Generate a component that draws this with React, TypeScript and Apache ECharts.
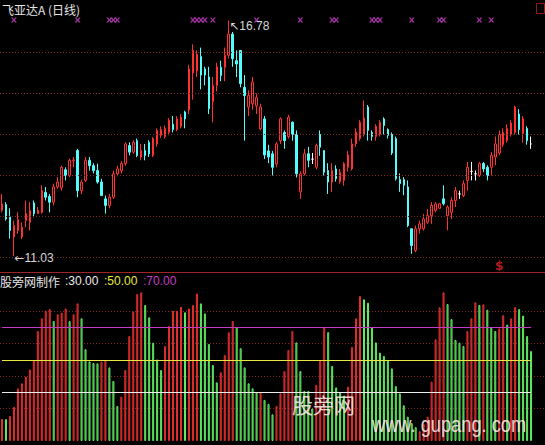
import React, { useEffect, useRef } from 'react';
import * as echarts from 'echarts';

const STOCK_TITLE = '飞亚达A (日线)';
const INDICATOR_TITLE = '股旁网制作';
const WATERMARK_CN = '股旁网';
const WATERMARK_URL = 'www. gupang. com';

// Daily candles: [open, close, low, high]
const CANDLES: number[][] = [
  [12.15, 12.31, 12.10, 12.55], [12.29, 11.94, 11.90, 12.35], [11.99, 11.66, 11.46, 12.20], [11.50, 11.78, 11.03, 11.90],
  [11.66, 11.92, 11.58, 12.10], [11.50, 11.74, 11.45, 11.86], [11.90, 12.07, 11.74, 12.39], [11.86, 12.15, 11.66, 12.35],
  [12.33, 12.07, 11.98, 12.39], [12.07, 12.15, 12.07, 12.23], [12.10, 12.63, 12.07, 12.76], [12.59, 12.47, 12.39, 12.72],
  [12.49, 12.35, 12.10, 12.55], [12.35, 12.72, 12.27, 12.80], [12.72, 12.84, 12.68, 12.96], [12.70, 13.20, 12.63, 13.24],
  [13.14, 13.00, 12.88, 13.20], [13.00, 13.37, 12.96, 13.41], [13.36, 13.38, 13.20, 13.45], [13.61, 12.63, 12.47, 13.65],
  [12.63, 12.84, 12.55, 12.90], [12.88, 13.37, 12.84, 13.45], [13.37, 13.24, 13.12, 13.45], [13.24, 13.12, 13.05, 13.30],
  [13.12, 12.84, 12.80, 13.29], [12.84, 12.51, 12.51, 12.92], [12.43, 12.27, 12.07, 12.51], [12.27, 12.47, 12.20, 12.55],
  [12.47, 13.04, 12.43, 13.12], [13.04, 13.16, 12.98, 13.24], [13.12, 13.29, 13.05, 13.35], [13.29, 13.77, 13.24, 13.81],
  [13.73, 13.57, 13.49, 13.81], [13.57, 13.81, 13.53, 13.86], [13.85, 13.49, 13.45, 13.90], [13.45, 13.61, 13.37, 13.77],
  [13.61, 13.49, 13.37, 13.77], [13.81, 13.53, 13.45, 13.86], [13.49, 13.90, 13.45, 13.94], [13.77, 14.10, 13.70, 14.15],
  [13.98, 14.12, 13.92, 14.20], [13.95, 14.15, 13.90, 14.22], [14.05, 14.35, 13.98, 14.40], [14.25, 14.12, 14.05, 14.45],
  [14.12, 14.38, 14.08, 14.45], [14.20, 14.42, 14.15, 14.50], [14.55, 14.38, 14.15, 14.58], [14.60, 15.60, 14.50, 15.70],
  [15.50, 16.05, 14.85, 16.20], [15.55, 15.95, 15.40, 16.05], [15.90, 15.45, 15.10, 16.12], [15.60, 15.45, 15.20, 15.65],
  [15.40, 14.63, 14.50, 15.65], [14.80, 15.20, 14.30, 15.40], [15.20, 15.65, 15.05, 15.75], [15.64, 15.44, 15.30, 15.80],
  [15.64, 15.93, 15.30, 16.12], [15.93, 16.45, 15.85, 16.78], [16.45, 15.85, 15.65, 16.50], [15.80, 15.72, 15.40, 16.05],
  [16.05, 15.24, 15.15, 16.05], [15.15, 14.95, 13.85, 15.45], [14.67, 14.95, 14.45, 15.08], [14.75, 15.28, 14.60, 15.40],
  [14.70, 14.90, 14.50, 15.00], [14.14, 14.67, 14.10, 14.75], [14.38, 13.50, 13.40, 14.45], [13.60, 13.45, 13.30, 13.75],
  [13.53, 13.20, 13.00, 13.60], [13.28, 13.77, 13.20, 13.82], [13.85, 14.38, 13.77, 14.42], [14.05, 13.85, 13.65, 14.10],
  [13.95, 14.42, 13.90, 14.48], [14.30, 14.00, 13.85, 14.32], [14.00, 13.04, 12.95, 14.10], [12.60, 13.04, 12.43, 13.10],
  [13.04, 13.53, 13.00, 13.65], [13.53, 13.37, 13.20, 13.70], [13.40, 13.40, 13.28, 13.55], [13.20, 13.73, 13.15, 13.78],
  [14.00, 13.69, 13.48, 14.10], [13.61, 13.08, 13.00, 13.61], [13.12, 12.84, 12.55, 13.30], [12.84, 13.12, 12.60, 13.30],
  [13.16, 12.92, 12.85, 13.25], [12.85, 13.08, 12.80, 13.16], [12.88, 13.29, 12.75, 13.33], [13.20, 13.50, 13.10, 13.60],
  [13.16, 13.77, 13.12, 13.90], [13.77, 14.06, 13.70, 14.15], [13.90, 14.30, 13.85, 14.35], [14.00, 14.40, 13.95, 14.83],
  [14.67, 14.10, 13.85, 14.72], [14.05, 13.95, 13.85, 14.10], [13.95, 14.20, 13.85, 14.25], [14.00, 14.30, 13.95, 14.35],
  [14.38, 14.22, 14.00, 14.42], [14.12, 13.98, 13.90, 14.15], [14.00, 13.55, 13.50, 14.05], [13.90, 12.92, 12.88, 13.95],
  [12.90, 12.80, 12.60, 13.05], [12.90, 12.76, 12.52, 12.96], [12.72, 11.78, 11.74, 12.88], [11.70, 11.29, 11.09, 11.70],
  [11.17, 11.70, 11.13, 11.78], [11.70, 11.82, 11.58, 11.90], [11.70, 11.94, 11.66, 12.06], [11.86, 12.02, 11.82, 12.18],
  [12.02, 12.27, 11.82, 12.35], [12.15, 12.31, 12.10, 12.35], [12.20, 12.31, 12.20, 12.33], [12.43, 12.31, 12.27, 12.76],
  [12.02, 12.23, 11.66, 12.27], [12.10, 12.39, 11.94, 12.47], [12.39, 12.63, 12.23, 12.72], [12.55, 12.55, 12.43, 12.63],
  [12.51, 12.80, 12.47, 12.88], [12.88, 13.20, 12.63, 13.33], [13.10, 13.10, 12.88, 13.33], [13.04, 13.04, 12.88, 13.12],
  [13.00, 13.29, 12.96, 13.33], [13.29, 13.16, 13.08, 13.33], [13.20, 13.00, 12.88, 13.25], [13.20, 13.49, 13.00, 13.57],
  [13.45, 13.77, 13.25, 13.95], [13.55, 14.00, 13.50, 14.10], [13.75, 14.05, 13.70, 14.15], [13.85, 14.15, 13.80, 14.25],
  [14.00, 14.28, 13.95, 14.35], [14.05, 14.67, 14.00, 14.70], [14.50, 14.12, 14.00, 14.62], [14.02, 14.38, 13.80, 14.45],
  [14.15, 13.85, 13.75, 14.20], [13.77, 13.77, 13.65, 13.95],
];

// Indicator histogram (0-100) and whether each bar is drawn as a rising (red) bar
const IND_VALUES: number[] = [
  13.5, 13.5, 15.4, 21, 32.4, 35.5, 39.6, 44, 49.8, 67.7, 75.5, 80.2, 81.2, 73.8, 78, 79, 81.6, 73.8, 78, 84.7,
  75.5, 56.5, 49, 48, 47.8, 48.8, 49.8, 45.3, 36.9, 21.5, 27.3, 43.7, 64.6, 79.6, 90.5, 91.5, 83.7, 76.1, 60.5, 50.2,
  43.7, 58.5, 70.8, 80.2, 80.2, 82.6, 79.2, 81.6, 83.7, 90.8, 84.7, 78.5, 59.7, 46.8, 36.1, 42.3, 53, 66.9, 73.9, 69.8,
  57.1, 45.3, 35.5, 32.4, 29.8, 29.8, 25.3, 22.8, 16.4, 21.5, 29.3, 43, 56, 67.7, 60.7, 43, 30.8, 30.8, 20, 34.5,
  49.6, 70, 67, 46.2, 33, 30, 28, 33.4, 57.8, 75.5, 89.2, 87.2, 85.1, 70, 60.7, 54.4, 52.3, 49.8, 44.7, 33.8,
  29.3, 22, 15, 11, 8.5, 6, 10.5, 15, 36.5, 62.6, 82.3, 91.5, 84.3, 75, 62.2, 60.5, 58.5, 67.7, 75.5, 85.4,
  83.7, 84.1, 80.8, 69.8, 67.7, 69.3, 77.4, 71.6, 75.5, 82.4, 81.2, 77.2, 64.6, 55.4,
];
const IND_RISING: number[] = [
  1, 0, 1, 1, 1, 1, 1, 1, 1, 1, 1, 1, 1, 0, 1, 1, 1, 0, 1, 1,
  0, 0, 0, 0, 0, 1, 1, 0, 0, 0, 1, 1, 1, 1, 1, 1, 0, 0, 0, 0,
  0, 1, 1, 1, 1, 1, 0, 1, 1, 1, 0, 0, 0, 0, 0, 1, 1, 1, 1, 0,
  0, 0, 0, 0, 0, 1, 0, 0, 0, 1, 1, 1, 1, 1, 0, 0, 0, 0, 0, 1,
  1, 1, 0, 0, 0, 0, 0, 1, 1, 1, 1, 0, 0, 0, 0, 0, 0, 0, 0, 0,
  0, 0, 0, 0, 0, 1, 1, 1, 1, 1, 1, 1, 0, 0, 0, 0, 0, 1, 1, 1,
  0, 1, 0, 0, 0, 1, 1, 0, 1, 1, 0, 0, 0, 0,
];

// Days flagged by the signal row along the top of the price panel
const SIGNAL_DAYS = [3, 19, 27, 28, 29, 48, 49, 50, 51, 53, 64, 75, 83, 84, 93, 94, 95, 103, 110, 111, 120, 123];
const DOLLAR_DAYS = [125];

const PRICE_GRID = [11, 12, 13, 14, 15, 16];
const LEVELS = [30, 50, 70];
const LEVEL_COLORS = ['#ececec', '#e8e840', '#c43cc4'];

const DAYS = CANDLES.map((_, i) => `D${i + 1}`);

const UP = '#ff3232';
const DOWN = '#54fcfc';
const DOJI = '#ffffff';
const GRID_RED = '#7e2a2a';
const LABEL_GREY = '#d6d6d6';
const SIGNAL_ROW = 16.79;
const DOLLAR_ROW = 10.8;

// bold little "x" used for the signal row
const X_PATH = 'path://M0 0L3 0L5 2.5L7 0L10 0L6.5 4L10 8L7 8L5 5.5L3 8L0 8L3.5 4Z';

export default function App() {
  const ref = useRef<HTMLDivElement>(null);

  useEffect(() => {
    if (!ref.current) return;
    document.body.style.margin = '0';
    document.body.style.background = '#000';
    const chart = echarts.init(ref.current, undefined, { renderer: 'svg' });

    let hi = 0;
    let lo = 0;
    CANDLES.forEach((d, i) => {
      if (d[3] > CANDLES[hi][3]) hi = i;
      if (d[2] < CANDLES[lo][2]) lo = i;
    });

    const candleData = CANDLES.map(([o, c, l, h]) =>
      o === c
        ? { value: [o, c, l, h], itemStyle: { color: '#000', color0: '#000', borderColor: DOJI, borderColor0: DOJI } }
        : [o, c, l, h]
    );

    const barData = IND_VALUES.map((v, i) => ({
      value: v,
      itemStyle: IND_RISING[i]
        ? { color: 'rgba(200,30,30,0.6)', borderColor: '#e43030', borderWidth: 1 }
        : { color: 'rgba(60,190,60,0.4)', borderColor: '#62f062', borderWidth: 1 },
    }));

    const last = DAYS.length - 1;
    const levelTextX = [65, 104, 143];

    const extremeLabel = {
      position: 'right',
      distance: 0,
      rich: {
        a: { fontFamily: '"DejaVu Sans", sans-serif', fontSize: 12, color: LABEL_GREY },
        b: { fontFamily: '"Liberation Sans", sans-serif', fontSize: 12, color: LABEL_GREY },
      },
    };

    const option: any = {
      animation: false,
      backgroundColor: '#000000',
      grid: [
        { left: 0, right: 0, top: 11.5, height: 261 },
        { left: 0, right: 0, top: 278.5, height: 162.5 },
      ],
      xAxis: [
        { type: 'category', gridIndex: 0, data: DAYS, max: DAYS.length + 2, boundaryGap: true, show: false },
        { type: 'category', gridIndex: 1, data: DAYS, max: DAYS.length + 2, boundaryGap: true, show: false },
      ],
      yAxis: [
        { type: 'value', gridIndex: 0, min: 10.634, max: 17, show: false, splitLine: { show: false } },
        {
          type: 'value', gridIndex: 1, min: 0, max: 100, interval: 20,
          axisLine: { show: false }, axisTick: { show: false }, axisLabel: { show: false },
          splitLine: { show: true, showMinLine: false, showMaxLine: false, lineStyle: { color: GRID_RED, type: [1, 2], width: 1 } },
        },
      ],
      series: [
        {
          type: 'line', xAxisIndex: 0, yAxisIndex: 0, data: [], silent: true, z: 1,
          markLine: {
            silent: true, symbol: 'none', label: { show: false }, animation: false,
            lineStyle: { color: GRID_RED, type: [1, 2], width: 1 },
            data: PRICE_GRID.map((p) => ({ yAxis: p })),
          },
        },
        {
          type: 'candlestick', xAxisIndex: 0, yAxisIndex: 0, data: candleData, z: 3, barWidth: 2,
          itemStyle: { color: '#000000', color0: DOWN, borderColor: UP, borderColor0: DOWN, borderWidth: 1 },
          markPoint: {
            symbol: 'circle', symbolSize: 1, itemStyle: { color: 'rgba(0,0,0,0)' }, animation: false,
            data: [
              {
                coord: [DAYS[hi], CANDLES[hi][3]],
                label: { ...extremeLabel, offset: [0, 5], formatter: '{a|↖}{b|' + CANDLES[hi][3].toFixed(2) + '}' },
              },
              {
                coord: [DAYS[lo], CANDLES[lo][2]],
                label: { ...extremeLabel, offset: [0, 2], formatter: '{a|←}{b|' + CANDLES[lo][2].toFixed(2) + '}' },
              },
            ],
          },
        },
        {
          type: 'scatter', xAxisIndex: 0, yAxisIndex: 0, z: 4, silent: true,
          symbol: X_PATH, symbolSize: [6, 5], itemStyle: { color: '#c83ec8' },
          data: SIGNAL_DAYS.map((i) => [DAYS[i], SIGNAL_ROW]),
        },
        {
          type: 'scatter', xAxisIndex: 0, yAxisIndex: 0, z: 4, silent: true,
          symbol: 'circle', symbolSize: 1, itemStyle: { color: 'rgba(0,0,0,0)' },
          label: { show: true, position: 'inside', formatter: '$', color: '#e02424', fontSize: 12, fontWeight: 'bold', fontFamily: '"DejaVu Sans", sans-serif' },
          data: DOLLAR_DAYS.map((i) => [DAYS[i], DOLLAR_ROW]),
        },
        {
          type: 'line', xAxisIndex: 1, yAxisIndex: 1, data: [], silent: true, z: 1,
          markLine: {
            silent: true, symbol: 'none', label: { show: false }, animation: false,
            data: LEVELS.map((v, k) => [
              { coord: [DAYS[0], v], lineStyle: { color: LEVEL_COLORS[k], type: 'solid', width: 1 } },
              { coord: [DAYS[last], v] },
            ]),
          },
        },
        {
          type: 'bar', xAxisIndex: 1, yAxisIndex: 1, data: barData, barWidth: 2, z: 2,
        },
      ],
      graphic: [
        { type: 'line', silent: true, z: 10, shape: { x1: 0, y1: 272.5, x2: 545, y2: 272.5 }, style: { stroke: '#a02424', lineWidth: 1 } },
        { type: 'rect', silent: true, z: 10, shape: { x: 536.5, y: 3.5, width: 8, height: 10 }, style: { stroke: '#8e1c1c', fill: 'none', lineWidth: 1 } },
        {
          type: 'text', silent: true, z: 10, x: 2, y: 9,
          style: { text: STOCK_TITLE, fill: '#e4e4e4', fontSize: 12, fontFamily: '"Noto Sans CJK SC", sans-serif', verticalAlign: 'middle' },
        },
        {
          type: 'text', silent: true, z: 10, x: 0, y: 281,
          style: { text: INDICATOR_TITLE, fill: '#e4e4e4', fontSize: 12, fontFamily: '"Noto Sans CJK SC", sans-serif', verticalAlign: 'middle' },
        },
        ...LEVELS.map((v, k) => ({
          type: 'text', silent: true, z: 10, x: levelTextX[k], y: 281,
          style: { text: ':' + v.toFixed(2), fill: LEVEL_COLORS[k], fontSize: 12, fontFamily: '"Liberation Sans", sans-serif', verticalAlign: 'middle' },
        })),
        {
          type: 'text', silent: true, z: 20, x: 292, y: 404,
          style: { text: WATERMARK_CN, fill: 'rgba(255,232,232,0.9)', fontSize: 21, fontFamily: '"Noto Sans CJK SC", sans-serif', verticalAlign: 'middle' },
        },
        {
          type: 'text', silent: true, z: 20, x: 372, y: 413, scaleX: 0.83,
          style: { text: WATERMARK_URL, fill: 'rgba(255,232,232,0.9)', fontSize: 22, fontFamily: '"Liberation Sans", sans-serif', verticalAlign: 'alphabetic' },
        },
      ],
    };

    chart.setOption(option);
    return () => chart.dispose();
  }, []);

  return (
    <div
      ref={ref}
      style={{ position: 'fixed', left: 0, top: 0, width: 545, height: 445, background: '#000' }}
    />
  );
}
